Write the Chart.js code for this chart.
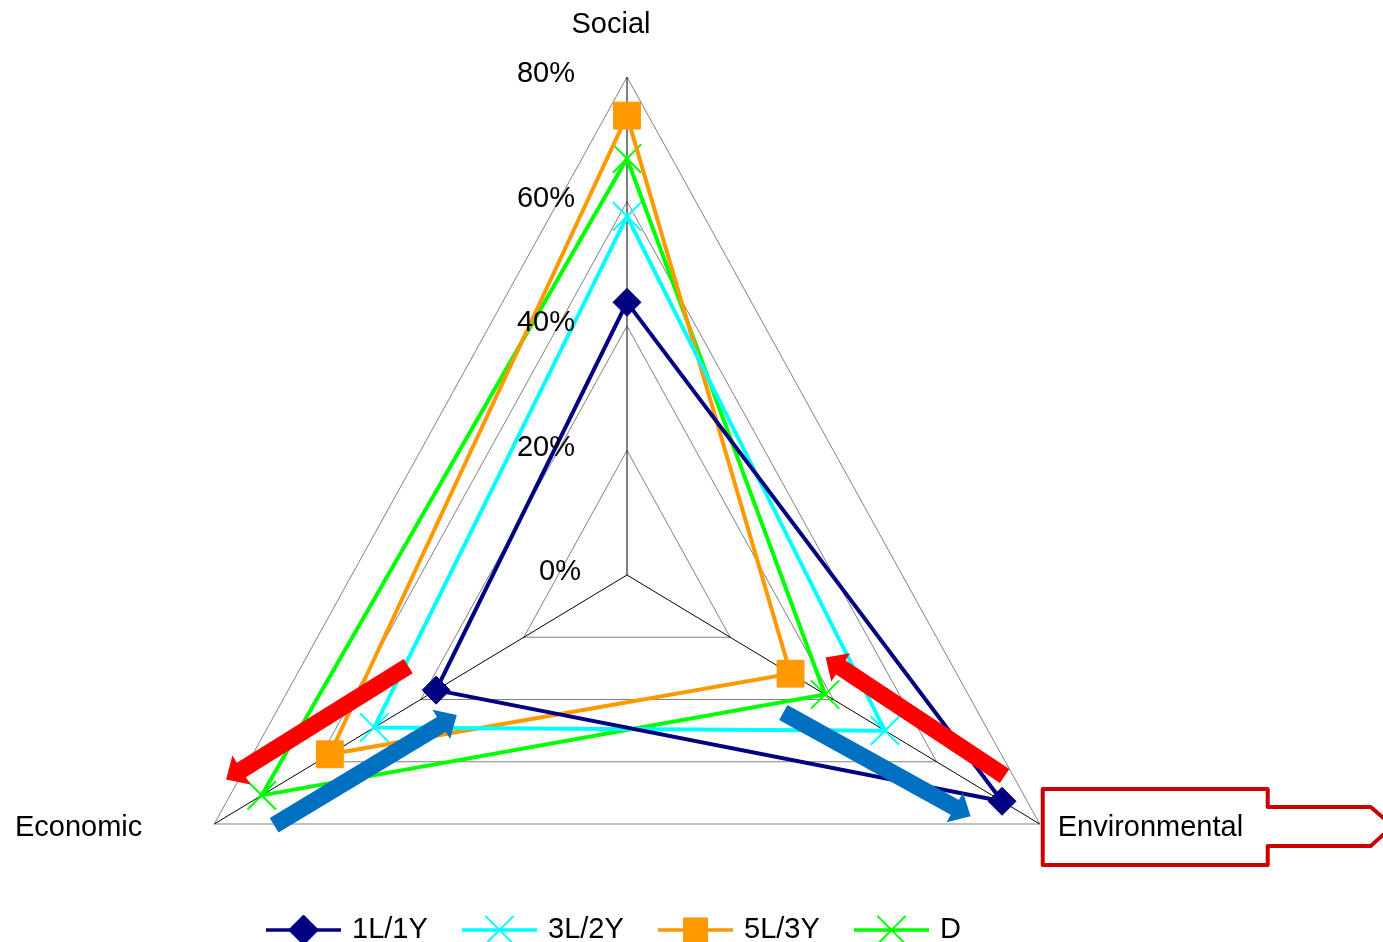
<!DOCTYPE html>
<html>
<head>
<meta charset="utf-8">
<title>Social / Environmental / Economic</title>
<script src="https://cdn.jsdelivr.net/npm/chart.js@4.4.0/dist/chart.umd.min.js"></script>
<style>
  html, body { margin: 0; padding: 0; background: #ffffff; }
  canvas { display: block; }
</style>
</head>
<body>
<canvas id="radar" width="1383" height="942"></canvas>
<script>
// chart values (percent)
var axisLabels = ["Social", "Environmental", "Economic"];
var seriesNames = ["1L/1Y", "3L/2Y", "5L/3Y", "D"];
var values1L1Y = [43.8, 72.7, 37.0];
var values3L2Y = [57.6, 50.0, 49.0];
var values5L3Y = [73.8, 31.7, 57.6];
var valuesD = [66.9, 38.4, 70.8];
var scaleMax = 80;
var scaleStep = 20;

// trend arrows: axis index, start value, end value (percent)
var arrowAxis = [2, 2, 1, 1];
var arrowFrom = [38.9, 71.6, 70.9, 34.0];
var arrowTo = [74.5, 36.2, 35.3, 69.5];

// layout / style
var fontFamily = "'Liberation Sans', Arial, sans-serif";
var centerX = 627, centerY = 575, radius = 498, squish = 0.957;
var arrowColors = ["#FF0000", "#0070C0", "#FF0000", "#0070C0"];
var arrowOffsets = [[35, 32], [-32, -32], [23, 32], [-37, -29]];
var labelPlace = [
    { align: "center", dx: -16, dy: -44 },
    { align: "left", dx: 18, dy: 12 },
    { align: "right", dx: -72, dy: 12 }
];
var legendLeft = 266, legendItemWidth = 196, legendY = 930;
var legendRadius = [15, 20, 17, 20];

function drawArrow(ctx, ax, ay, bx, by, color) {
    var len = Math.sqrt((bx - ax) * (bx - ax) + (by - ay) * (by - ay));
    var ux = (bx - ax) / len, uy = (by - ay) / len;
    var nx = -uy, ny = ux;
    var shaft = 8.5, head = 17, headLen = 18;
    var cx = bx - ux * headLen, cy = by - uy * headLen;
    ctx.beginPath();
    ctx.moveTo(ax + nx * shaft, ay + ny * shaft);
    ctx.lineTo(cx + nx * shaft, cy + ny * shaft);
    ctx.lineTo(cx + nx * head, cy + ny * head);
    ctx.lineTo(bx, by);
    ctx.lineTo(cx - nx * head, cy - ny * head);
    ctx.lineTo(cx - nx * shaft, cy - ny * shaft);
    ctx.lineTo(ax - nx * shaft, ay - ny * shaft);
    ctx.closePath();
    ctx.fillStyle = color;
    ctx.fill();
}

var radarExtras = {
    id: "radarExtras",
    afterLayout: function (chart) {
        var scale = chart.scales.r;
        scale.xCenter = centerX;
        scale.yCenter = centerY;
        scale.drawingArea = radius;
        if (!scale.squished) {
            var basePos = scale.getPointPosition;
            scale.getPointPosition = function (index, distance, extra) {
                var p = basePos.call(this, index, distance, extra);
                return { x: this.xCenter + (p.x - this.xCenter) * squish, y: p.y, angle: p.angle };
            };
            scale.squished = true;
        }
    },
    afterDraw: function (chart) {
        var ctx = chart.ctx;
        var scale = chart.scales.r;
        ctx.save();

        // trend arrows
        for (var a = 0; a < arrowAxis.length; a++) {
            var tip = scale.getPointPositionForValue(arrowAxis[a], scale.max);
            var dx = tip.x - scale.xCenter, dy = tip.y - scale.yCenter;
            var l = Math.sqrt(dx * dx + dy * dy);
            var nx = dy / l, ny = -dx / l;
            if (ny > 0) { nx = -nx; ny = -ny; }
            var p0 = scale.getPointPositionForValue(arrowAxis[a], arrowFrom[a]);
            var p1 = scale.getPointPositionForValue(arrowAxis[a], arrowTo[a]);
            drawArrow(ctx,
                p0.x + nx * arrowOffsets[a][0], p0.y + ny * arrowOffsets[a][0],
                p1.x + nx * arrowOffsets[a][1], p1.y + ny * arrowOffsets[a][1],
                arrowColors[a]);
        }

        // callout around Environmental
        var env = scale.getPointPosition(1, scale.drawingArea);
        ctx.beginPath();
        ctx.moveTo(env.x + 3, env.y - 35);
        ctx.lineTo(env.x + 228, env.y - 35);
        ctx.lineTo(env.x + 228, env.y - 17);
        ctx.lineTo(env.x + 331, env.y - 17);
        ctx.lineTo(env.x + 353, env.y + 2);
        ctx.lineTo(env.x + 331, env.y + 22);
        ctx.lineTo(env.x + 228, env.y + 22);
        ctx.lineTo(env.x + 228, env.y + 41);
        ctx.lineTo(env.x + 3, env.y + 41);
        ctx.closePath();
        ctx.fillStyle = "#ffffff";
        ctx.fill();
        ctx.lineWidth = 4;
        ctx.lineJoin = "round";
        ctx.strokeStyle = "#CC0000";
        ctx.stroke();

        // axis labels
        ctx.font = "29px " + fontFamily;
        ctx.fillStyle = "#000000";
        ctx.textBaseline = "alphabetic";
        for (var i = 0; i < axisLabels.length; i++) {
            var v = scale.getPointPosition(i, scale.drawingArea);
            ctx.textAlign = labelPlace[i].align;
            ctx.fillText(axisLabels[i], v.x + labelPlace[i].dx, v.y + labelPlace[i].dy);
        }

        // tick labels left of the Social axis
        ctx.textAlign = "right";
        scale.ticks.forEach(function (t) {
            var p = scale.getPointPositionForValue(0, t.value);
            ctx.fillText(t.value + "%", p.x - (t.value === 0 ? 46 : 52), p.y + 5);
        });

        // legend
        chart.data.datasets.forEach(function (ds, k) {
            var x = legendLeft + k * legendItemWidth;
            ctx.beginPath();
            ctx.moveTo(x, legendY);
            ctx.lineTo(x + 75, legendY);
            ctx.lineWidth = 3.5;
            ctx.strokeStyle = ds.borderColor;
            ctx.stroke();
            ctx.fillStyle = ds.pointBackgroundColor;
            ctx.strokeStyle = ds.pointBorderColor;
            ctx.lineWidth = ds.pointBorderWidth;
            Chart.helpers.drawPoint(ctx, {
                pointStyle: ds.pointStyle,
                radius: legendRadius[k],
                borderWidth: ds.pointBorderWidth,
                rotation: 0
            }, x + 37.5, legendY);
            ctx.fillStyle = "#000000";
            ctx.textAlign = "left";
            ctx.fillText(ds.label, x + 86, legendY + 8);
        });

        ctx.restore();
    }
};

var ctx0 = document.getElementById("radar");
var myChart = new Chart(ctx0, {
    type: "radar",
    data: {
        labels: axisLabels,
        datasets: [
            { label: seriesNames[0], data: values1L1Y, borderColor: "#000080", borderWidth: 4,
              pointStyle: "rectRot", pointRadius: 14, pointBackgroundColor: "#000080",
              pointBorderColor: "#000080", pointBorderWidth: 1 },
            { label: seriesNames[1], data: values3L2Y, borderColor: "#00FFFF", borderWidth: 4,
              pointStyle: "crossRot", pointRadius: 20, pointBackgroundColor: "#00FFFF",
              pointBorderColor: "#00FFFF", pointBorderWidth: 2 },
            { label: seriesNames[2], data: values5L3Y, borderColor: "#FF9900", borderWidth: 4,
              pointStyle: "rect", pointRadius: 19, pointBackgroundColor: "#FF9900",
              pointBorderColor: "#FF9900", pointBorderWidth: 1 },
            { label: seriesNames[3], data: valuesD, borderColor: "#00FF00", borderWidth: 4,
              pointStyle: "crossRot", pointRadius: 20, pointBackgroundColor: "#00FF00",
              pointBorderColor: "#00FF00", pointBorderWidth: 2 }
        ]
    },
    options: {
        responsive: false,
        animation: false,
        devicePixelRatio: 1,
        layout: { padding: 0 },
        elements: {
            line: { borderWidth: 4, fill: false, tension: 0 }
        },
        datasets: { radar: { clip: false } },
        plugins: {
            legend: { display: false },
            tooltip: { enabled: false }
        },
        scales: {
            r: {
                min: 0,
                max: scaleMax,
                ticks: { stepSize: scaleStep, display: false },
                grid: { color: "#808080", lineWidth: 1 },
                angleLines: { color: "#000000", lineWidth: 1 },
                pointLabels: { display: false }
            }
        }
    },
    plugins: [radarExtras]
});
</script>
</body>
</html>
